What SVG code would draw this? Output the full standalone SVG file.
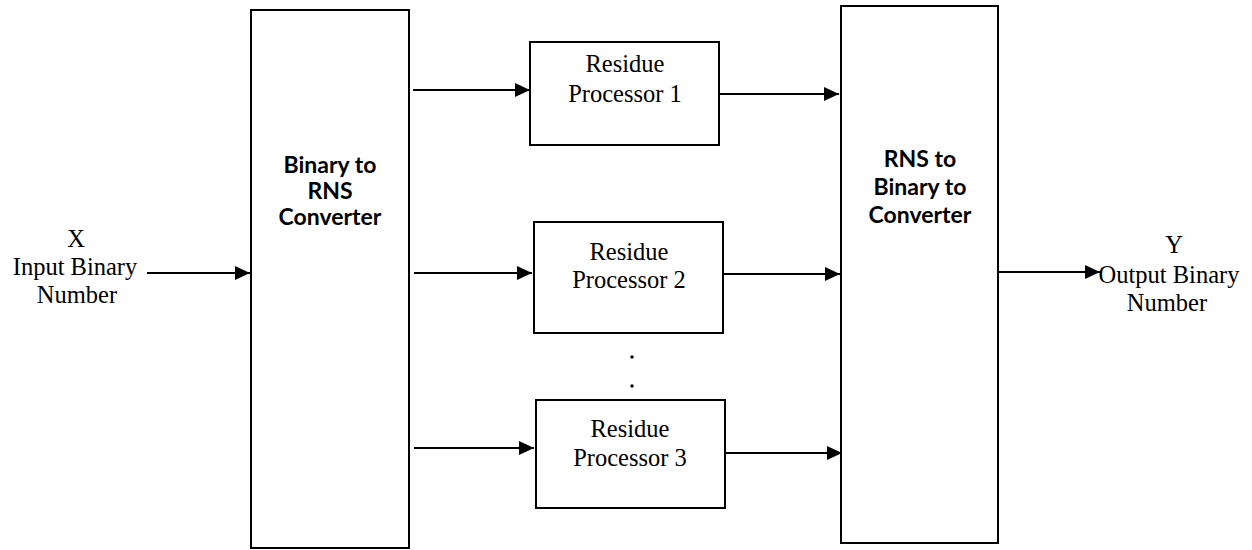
<svg xmlns="http://www.w3.org/2000/svg" width="1252" height="550" viewBox="0 0 1252 550">
<style>
.box{fill:#fff;stroke:#000;stroke-width:2}
.t{font-family:"Liberation Serif","Times New Roman",serif;font-size:24.5px;fill:#000;text-anchor:middle}
.b{font-family:"Lato","Liberation Sans",sans-serif;font-weight:bold;font-size:23px;fill:#000;text-anchor:middle}
.c{stroke:#000;stroke-width:2.2;fill:none;marker-end:url(#ah)}
</style>
<defs>
<marker id="ah" markerUnits="userSpaceOnUse" markerWidth="15" markerHeight="14" refX="15" refY="7" orient="auto">
<path d="M0,0 L15,7 L0,14 z" fill="#000"/>
</marker>
</defs>
<rect width="1252" height="550" fill="#fff"/>
<g id="input">
<text class="t" x="76" y="247">X</text>
<text class="t" x="75" y="275">Input Binary</text>
<text class="t" x="77" y="303">Number</text>
</g>
<g id="bin2rns">
<rect class="box" x="251" y="10" width="158" height="538"/>
<text class="b" x="330" y="173">Binary to</text>
<text class="b" x="330" y="199">RNS</text>
<text class="b" x="330" y="225">Converter</text>
</g>
<g id="rp1">
<rect class="box" x="530" y="42" width="189" height="103"/>
<text class="t" x="625" y="72">Residue</text>
<text class="t" x="625" y="102">Processor 1</text>
</g>
<g id="rp2">
<rect class="box" x="534" y="222" width="189" height="111"/>
<text class="t" x="629" y="260">Residue</text>
<text class="t" x="629" y="288">Processor 2</text>
</g>
<g id="dots">
<circle cx="632" cy="357" r="1.7" fill="#000"/>
<circle cx="632" cy="386" r="1.7" fill="#000"/>
</g>
<g id="rp3">
<rect class="box" x="536" y="400" width="189" height="108"/>
<text class="t" x="630" y="437">Residue</text>
<text class="t" x="630" y="466">Processor 3</text>
</g>
<g id="rns2bin">
<rect class="box" x="841" y="6" width="157" height="537"/>
<text class="b" x="920" y="167">RNS to</text>
<text class="b" x="920" y="195">Binary to</text>
<text class="b" x="920" y="223">Converter</text>
</g>
<g id="output">
<text class="t" x="1174" y="253">Y</text>
<text class="t" x="1169" y="283">Output Binary</text>
<text class="t" x="1167" y="311">Number</text>
</g>
<g id="connectors">
<line class="c" x1="147" y1="273" x2="250" y2="273"/>
<line class="c" x1="413" y1="90" x2="530" y2="90"/>
<line class="c" x1="719" y1="94" x2="839" y2="94"/>
<line class="c" x1="414" y1="273" x2="532" y2="273"/>
<line class="c" x1="723" y1="274" x2="840" y2="274"/>
<line class="c" x1="414" y1="448" x2="534" y2="448"/>
<line class="c" x1="725" y1="453" x2="842" y2="453"/>
<line class="c" x1="998" y1="272" x2="1100" y2="272"/>
</g>
</svg>
